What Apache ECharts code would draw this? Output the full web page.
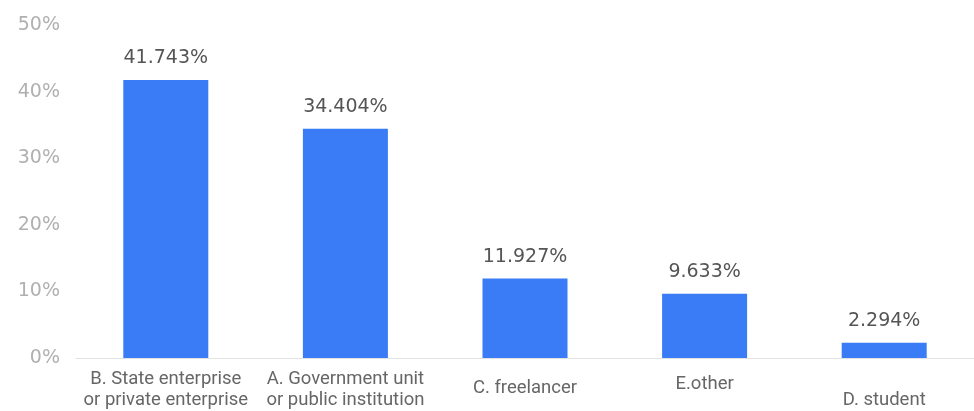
<!DOCTYPE html>
<html>
<head>
<meta charset="utf-8">
<style>
  html, body { margin: 0; padding: 0; background: #fff; }
  #chart { width: 974px; height: 411px; }
</style>
<script src="https://cdn.jsdelivr.net/npm/echarts@6/dist/echarts.min.js"></script>
</head>
<body>
<div id="chart"></div>
<script>
// Occupation categories and their share of respondents (%)
const categories = [
  'B. State enterprise\nor private enterprise',
  'A. Government unit\nor public institution',
  'C. freelancer',
  'E.other',
  'D. student'
];
const shares = [41.743, 34.404, 11.927, 9.633, 2.294];
const yTicks = [0, 10, 20, 30, 40, 50];

// extra top offset for single-line labels
const labelOffsets = [0, 0, 9, 5, 21];

const chart = echarts.init(document.getElementById('chart'));
chart.setOption({
  animation: false,
  grid: { left: 76, right: 0, top: 25, bottom: 53 },
  xAxis: {
    type: 'category',
    data: categories.map((c, i) => ({
      value: c,
      textStyle: { padding: [labelOffsets[i], 0, 0, 0] }
    })),
    axisLine: { lineStyle: { color: '#e3e3e3', width: 1 } },
    axisTick: { show: false },
    axisLabel: {
      interval: 0,
      margin: 11,
      color: '#666',
      fontSize: 18.5,
      lineHeight: 21,
      fontFamily: 'Roboto, "Noto Sans", sans-serif'
    }
  },
  yAxis: {
    type: 'value',
    min: yTicks[0],
    max: yTicks[yTicks.length - 1],
    interval: 10,
    splitLine: { show: false },
    axisLine: { show: false },
    axisTick: { show: false },
    axisLabel: {
      margin: 16,
      color: '#b0b0b0',
      fontSize: 19,
      fontFamily: '"DejaVu Sans", sans-serif',
      formatter: v => v + '%'
    }
  },
  series: [{
    type: 'bar',
    data: shares,
    barWidth: 85,
    itemStyle: { color: '#3a7cf6' },
    label: {
      show: true,
      position: 'top',
      distance: 12,
      color: '#555',
      fontSize: 19,
      fontFamily: '"DejaVu Sans", sans-serif',
      formatter: p => p.value.toFixed(3) + '%'
    }
  }]
});
</script>
</body>
</html>
